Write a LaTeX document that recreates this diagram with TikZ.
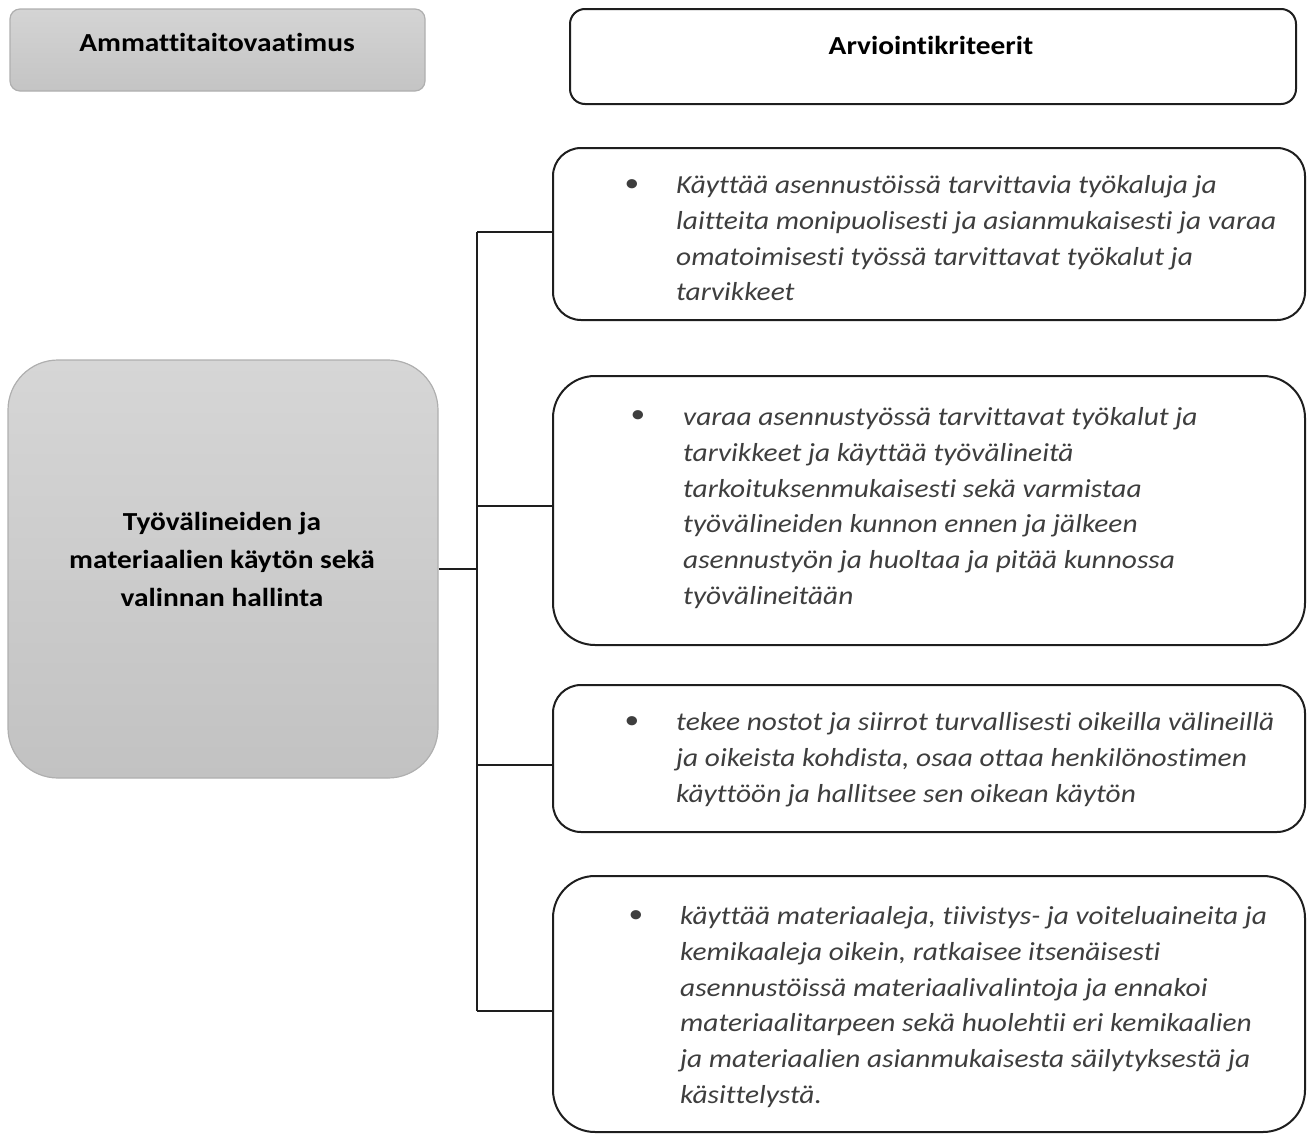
\documentclass[tikz,border=0pt]{standalone}
\usepackage{fontspec}
\setmainfont{Carlito}[FakeStretch=1.13, Ligatures=NoCommon]
\definecolor{hdrtop}{RGB}{212,212,212}
\definecolor{hdrbot}{RGB}{196,196,196}
\definecolor{ltop}{RGB}{214,214,214}
\definecolor{lbot}{RGB}{194,194,194}
\definecolor{lborder}{RGB}{175,175,175}
\definecolor{txtgray}{RGB}{62,62,62}
\definecolor{linecol}{RGB}{30,30,30}
\begin{document}
\begin{tikzpicture}[x=1pt,y=-1pt,
  graybox/.style={draw=lborder, line width=1.2pt, top color=hdrtop, bottom color=hdrbot},
  critbox/.style={draw=linecol, line width=2pt, fill=white},
  conn/.style={draw=linecol, line width=2pt},
  hdrtext/.style={font=\fontsize{26}{30}\selectfont\bfseries, text=black},
  lefttext/.style={font=\fontsize{26}{38}\selectfont\bfseries, text=black, align=center},
  crittext/.style={font=\fontsize{26}{35.9}\selectfont\itshape, text=txtgray, align=left, anchor=north west, inner sep=0pt},
  bullet/.style={font=\fontsize{26}{30}\selectfont, text=txtgray, inner sep=0pt}
]
\useasboundingbox (0,0) rectangle (1310,1135);
% header boxes
\node[graybox, rounded corners=10pt, minimum width=415pt, minimum height=82pt] (hA) at (217.5,50) {};
\node[hdrtext] (hAt) at (217,42) {Ammattitaitovaatimus};
\node[critbox, rounded corners=15pt, minimum width=726pt, minimum height=95pt] (hB) at (933,56.5) {};
\node[hdrtext] (hBt) at (931,45) {Arviointikriteerit};
% left box
\node[draw=lborder, line width=1.2pt, top color=ltop, bottom color=lbot, rounded corners=50pt, minimum width=430pt, minimum height=418pt] (L) at (223,569) {};
\node[lefttext] (Lt) at (222,559) {Työvälineiden ja\\materiaalien käytön sekä\\valinnan hallinta};
% criteria boxes
\node[critbox, rounded corners=28pt, minimum width=752pt, minimum height=172pt] (k1) at (929,234) {};
\node[critbox, rounded corners=42pt, minimum width=752pt, minimum height=269pt] (k2) at (929,510.5) {};
\node[critbox, rounded corners=28pt, minimum width=752pt, minimum height=147pt] (k3) at (929,758.5) {};
\node[critbox, rounded corners=42pt, minimum width=752pt, minimum height=256pt] (k4) at (929,1004) {};
% texts
\node[bullet] (b1) at (632,186) {•};
\node[crittext] (t1) at (676,175) {Käyttää asennustöissä tarvittavia työkaluja ja\\laitteita monipuolisesti ja asianmukaisesti ja varaa\\omatoimisesti työssä tarvittavat työkalut ja\\tarvikkeet};
\node[bullet] (b2) at (638,417) {•};
\node[crittext] (t2) at (683,407) {varaa asennustyössä tarvittavat työkalut ja\\tarvikkeet ja käyttää työvälineitä\\tarkoituksenmukaisesti sekä varmistaa\\työvälineiden kunnon ennen ja jälkeen\\asennustyön ja huoltaa ja pitää kunnossa\\työvälineitään};
\node[bullet] (b3) at (632,723) {•};
\node[crittext] (t3) at (676,712) {tekee nostot ja siirrot turvallisesti oikeilla välineillä\\ja oikeista kohdista, osaa ottaa henkilönostimen\\käyttöön ja hallitsee sen oikean käytön};
\node[bullet] (b4) at (636,917) {•};
\node[crittext] (t4) at (680,906) {käyttää materiaaleja, tiivistys- ja voiteluaineita ja\\kemikaaleja oikein, ratkaisee itsenäisesti\\asennustöissä materiaalivalintoja ja ennakoi\\materiaalitarpeen sekä huolehtii eri kemikaalien\\ja materiaalien asianmukaisesta säilytyksestä ja\\käsittelystä.};
% connectors
\coordinate (trunk) at (477,0);
\coordinate (c1) at ([yshift=2pt]k1.west);
\coordinate (c2) at ([yshift=5pt]k2.west);
\coordinate (c3) at ([yshift=-6.5pt]k3.west);
\coordinate (c4) at ([yshift=-7pt]k4.west);
\draw[conn] (L.east) -- (L.east -| trunk);
\draw[conn] (c1 -| trunk) -- (c4 -| trunk);
\draw[conn] (c1 -| trunk) -- (c1);
\draw[conn] (c2 -| trunk) -- (c2);
\draw[conn] (c3 -| trunk) -- (c3);
\draw[conn] (c4 -| trunk) -- (c4);
\end{tikzpicture}
\end{document}
